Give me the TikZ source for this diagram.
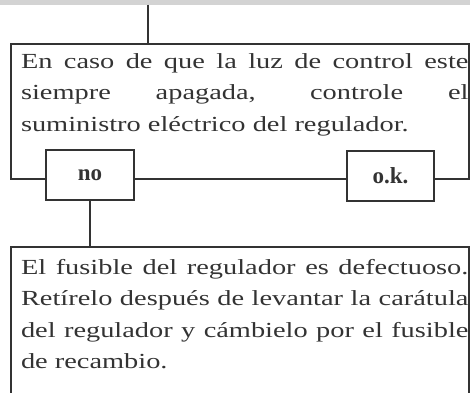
\documentclass[tikz,border=0pt]{standalone}
\usepackage{fontspec}
\setmainfont{Liberation Serif}
\usepackage{graphicx}
\definecolor{linea}{HTML}{333333}
\definecolor{banda}{HTML}{D3D3D3}
% texto de los recuadros, ensanchado como en el original
\newcommand{\cuerpo}[1]{\scalebox{1.32}[1]{\parbox[t]{339pt}{\fontsize{21.5}{31.5}\selectfont\hbadness=10000 #1}}}

\begin{document}
\begin{tikzpicture}[x=1pt, y=-1pt, line width=2pt, color=linea,
		marco/.style={draw, anchor=north west, inner sep=0pt},
		opcion/.style={draw, fill=white, minimum width=88pt, minimum height=50pt,
			font=\fontsize{23}{23}\selectfont\bfseries},
		texto/.style={anchor=base west, inner sep=0pt}]
	\clip (0,0) rectangle (470,392);
	\fill[banda] (0,0) rectangle (470,4.5);
	% recuadros
	\node[marco, minimum width=458pt, minimum height=135pt] (caso) at (10,43) {};
	\node[marco, minimum width=458pt, minimum height=180pt] (fusible) at (10,246) {};
	\node[opcion] (no) at (90,175) {no};
	\node[opcion, minimum width=87pt] (ok) at (390.5,175.5) {o.k.};
	% textos
	\node[texto] (casotxt) at (20,68) {\cuerpo{En caso de que la luz de control este\linebreak
			siempre apagada, controle el\linebreak
			suministro eléctrico del regulador.}};
	\node[texto] (fusibletxt) at (20,274) {\cuerpo{El fusible del regulador es defectuoso.\linebreak
			Retírelo después de levantar la carátula\linebreak
			del regulador y cámbielo por el fusible\linebreak
			de recambio.}};
	% conexiones
	\coordinate (entrada) at (148,4.5);
	\draw (entrada) -- (entrada |- caso.north);
	\draw (no.south) -- (no.south |- fusible.north);
\end{tikzpicture}
\end{document}
